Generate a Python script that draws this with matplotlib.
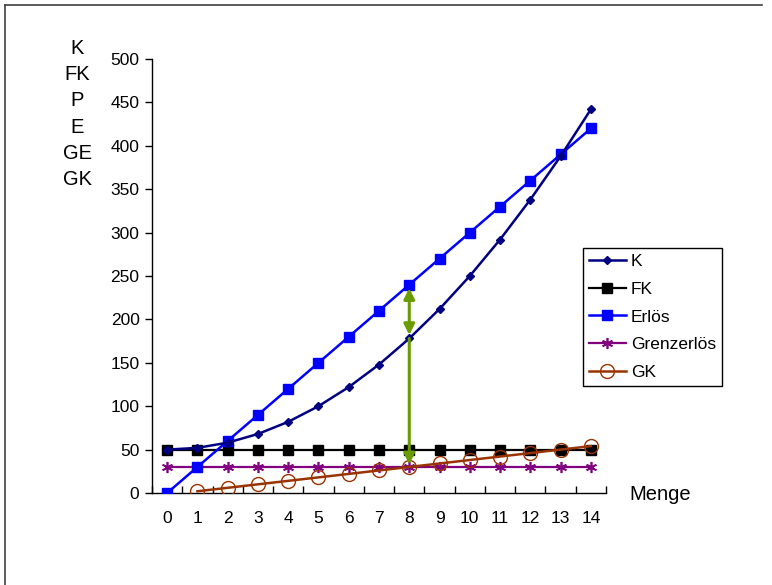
import matplotlib
matplotlib.use("Agg")
import matplotlib.pyplot as plt
from matplotlib.lines import Line2D

plt.rcParams['font.family'] = ['Liberation Sans', 'DejaVu Sans']

# data
menge = [0, 1, 2, 3, 4, 5, 6, 7, 8, 9, 10, 11, 12, 13, 14]
k = [50, 52, 58, 68, 82, 100, 122, 148, 178, 212, 250, 292, 338, 388, 442]
fk = [50, 50, 50, 50, 50, 50, 50, 50, 50, 50, 50, 50, 50, 50, 50]
erloes = [0, 30, 60, 90, 120, 150, 180, 210, 240, 270, 300, 330, 360, 390, 420]
grenzerloes = [30, 30, 30, 30, 30, 30, 30, 30, 30, 30, 30, 30, 30, 30, 30]
gk_menge = [1, 2, 3, 4, 5, 6, 7, 8, 9, 10, 11, 12, 13, 14]
gk = [2, 6, 10, 14, 18, 22, 26, 30, 34, 38, 42, 46, 50, 54]

# arrow at Menge = 8
pfeil_x = 8
pfeil_erloes = 240
pfeil_k = 178
pfeil_unten = 30

fig = plt.figure(figsize=(7.72, 5.85), dpi=100)
ax = fig.add_axes([152 / 772, 1 - 493 / 585, 454 / 772, 434 / 585])

ax.plot(menge, grenzerloes, color='#800080', lw=1.6, marker=(6, 2, 0), ms=8, mew=1.2,
        label='Grenzerlös', zorder=3)
ax.plot(gk_menge, gk, color='#993300', lw=1.8, marker='o', ms=10, mfc='none', mew=1.0,
        label='GK', zorder=4)
ax.plot(menge, fk, color='black', lw=1.6, marker='s', ms=6.5, label='FK', zorder=3)
ax.plot(menge, erloes, color='#0000FF', lw=1.8, marker='s', ms=7, label='Erlös', zorder=5)
ax.plot(menge, k, color='#000080', lw=1.8, marker='D', ms=4.5, label='K', zorder=6)

gruen = '#6A9C00'
ax.annotate('', xy=(pfeil_x, pfeil_erloes - 4), xytext=(pfeil_x, pfeil_k + 4),
            arrowprops=dict(arrowstyle='<|-|>', color=gruen, lw=2.2,
                            mutation_scale=16, shrinkA=0, shrinkB=0), zorder=7)
ax.annotate('', xy=(pfeil_x, pfeil_unten + 3), xytext=(pfeil_x, pfeil_k),
            arrowprops=dict(arrowstyle='-|>', color=gruen, lw=2.2,
                            mutation_scale=16, shrinkA=0, shrinkB=0), zorder=7)

ax.set_xlim(-0.5, 14.5)
ax.set_ylim(0, 500)
ax.set_yticks(range(0, 501, 50))
ax.set_xticks(menge)
ax.set_xticks([i - 0.5 for i in range(16)], minor=True)
ax.tick_params(axis='x', which='major', length=0, pad=13, labelsize=12.5)
ax.tick_params(axis='x', which='minor', length=5, direction='in', width=1)
ax.tick_params(axis='y', length=5, direction='out', width=1, labelsize=12.5, pad=4)
for s in ['top', 'right']:
    ax.spines[s].set_visible(False)
ax.spines['left'].set_linewidth(1)
ax.spines['bottom'].set_linewidth(1)

fig.text(77 / 772, 1 - 114 / 585, 'K\nFK\nP\nE\nGE\nGK', ha='center', va='center',
         fontsize=14.5, linespacing=1.48)
fig.text(629 / 772, 1 - 495 / 585, 'Menge', ha='left', va='center', fontsize=14.5)

handles = [
    Line2D([], [], color='#000080', lw=1.8, marker='D', ms=4.5),
    Line2D([], [], color='black', lw=1.6, marker='s', ms=6.5),
    Line2D([], [], color='#0000FF', lw=1.8, marker='s', ms=7),
    Line2D([], [], color='#800080', lw=1.6, marker=(6, 2, 0), ms=8, mew=1.2),
    Line2D([], [], color='#993300', lw=1.8, marker='o', ms=10, mfc='none', mew=1.0),
]
leg = ax.legend(handles, ['K', 'FK', 'Erlös', 'Grenzerlös', 'GK'],
                loc='upper left', bbox_to_anchor=(583 / 772, 1 - 248 / 585),
                bbox_transform=fig.transFigure, fontsize=12.5, frameon=True,
                fancybox=False, edgecolor='black', framealpha=1,
                handlelength=2.1, handletextpad=0.3, labelspacing=0.72,
                borderpad=0.35, borderaxespad=0)
leg.get_frame().set_linewidth(1)

# border lines of the picture
fig.add_artist(Line2D([5 / 772, 762 / 772], [1 - 5 / 585, 1 - 5 / 585],
                      color='#404040', lw=1.2, transform=fig.transFigure))
fig.add_artist(Line2D([5 / 772, 5 / 772], [1 - 5 / 585, 0],
                      color='#404040', lw=1.2, transform=fig.transFigure))

fig.savefig('out.png', dpi=100)
